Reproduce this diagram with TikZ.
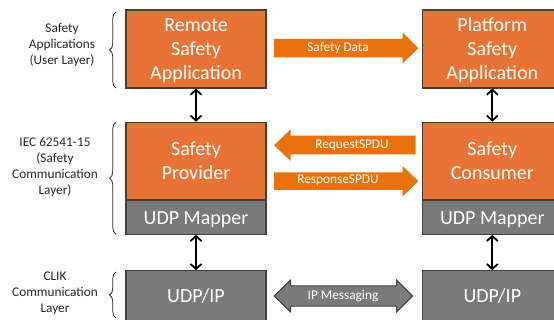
\documentclass[tikz,border=0pt]{standalone}
\usepackage{fontspec}
\setmainfont{Carlito}
\usetikzlibrary{arrows.meta,decorations.pathreplacing}

\definecolor{boxorange}{HTML}{E97334}
\definecolor{arroworange}{HTML}{E9720F}
\definecolor{boxgrey}{HTML}{7A7A7A}
\definecolor{edgegrey}{HTML}{3F3F3F}
\definecolor{labelgrey}{HTML}{262626}

\tikzset{
  layerbox/.style={draw=edgegrey, line width=1.1pt, minimum width=140pt, inner sep=0pt,
    text=white, align=center, font=\fontsize{20}{24}\selectfont},
  safetybox/.style={layerbox, fill=boxorange},
  commbox/.style={layerbox, fill=boxgrey},
  threeline/.style={text height=61.4pt, text depth=0pt},
  twoline/.style={text height=37.4pt, text depth=0pt},
  oneline/.style={text height=15.5pt, text depth=0pt},
  linkarrow/.style={line width=1.8pt, black, {Straight Barb[length=5pt,width=11pt]}-{Straight Barb[length=5pt,width=11pt]}},
  sidelabel/.style={align=center, text=labelgrey, font=\fontsize{13.3}{16}\selectfont, inner sep=0pt},
  flowlabel/.style={text=white, font=\fontsize{13.3}{16}\selectfont, inner sep=0pt},
  layerbrace/.style={draw=labelgrey, line width=0.8pt, decorate, decoration={brace, amplitude=6.5pt}},
  orangeflow/.style={fill=arroworange, draw=none},
  greyflow/.style={fill=boxgrey, draw=edgegrey, line width=1pt},
}

\begin{document}
\begin{tikzpicture}[x=1pt,y=-1pt]
  \useasboundingbox (0,0) rectangle (554,320);
  \clip (0,0) rectangle (554,320);

  % application layer
  \node[safetybox, threeline, minimum height=78pt] (rsa) at (196,49) {Remote\\Safety\\Application};
  \node[safetybox, threeline, minimum height=78pt] (psa) at (492.3,49) {Platform\\Safety\\Application};

  % safety communication layer
  \node[safetybox, twoline, minimum height=77.7pt] (sp) at (196,161.15) {Safety\\Provider};
  \node[safetybox, twoline, minimum height=77.7pt] (sc) at (492.3,161.15) {Safety\\Consumer};
  \node[commbox, oneline, minimum height=34.3pt] (um1) at (196,217.15) {UDP Mapper};
  \node[commbox, oneline, minimum height=34.3pt] (um2) at (492.3,217.15) {UDP Mapper};

  % transport layer
  \node[commbox, minimum height=50.6pt] (ip1) at (196,296) {UDP/IP};
  \node[commbox, minimum height=50.6pt] (ip2) at (492.3,296) {UDP/IP};

  % vertical links between layers
  \draw[linkarrow] (rsa.south) -- (sp.north);
  \draw[linkarrow] (psa.south) -- (sc.north);
  \draw[linkarrow] (um1.south) -- (ip1.north);
  \draw[linkarrow] (um2.south) -- (ip2.north);

  % block arrows between the two stacks
  \fill[orangeflow] (274,39) -- (402.7,39) -- (402.7,32.7) -- (418.3,48.2)
    -- (402.7,63.3) -- (402.7,57.3) -- (274,57.3) -- cycle;
  \node[flowlabel] (sdata) at (338,48.5) {Safety Data};

  \fill[orangeflow] (415.7,135.7) -- (290.7,135.7) -- (290.7,129.3) -- (274,145.2)
    -- (290.7,161) -- (290.7,154.3) -- (415.7,154.3) -- cycle;
  \node[flowlabel] (req) at (352,145) {RequestSPDU};

  \fill[orangeflow] (274,172.3) -- (402.7,172.3) -- (402.7,166) -- (418.3,181.2)
    -- (402.7,196.4) -- (402.7,190) -- (274,190) -- cycle;
  \node[flowlabel] (resp) at (338,180.5) {ResponseSPDU};

  \draw[greyflow] (274,296) -- (290.7,280) -- (290.7,286) -- (396.7,286) -- (396.7,280)
    -- (412.7,296) -- (396.7,312) -- (396.7,306) -- (290.7,306) -- (290.7,312) -- cycle;
  \node[flowlabel] (ipm) at (343,296) {IP Messaging};

  % layer braces and captions
  \draw[layerbrace] (116,88) -- (116,12);
  \draw[layerbrace] (116,234) -- (116,122.3);
  \draw[layerbrace] (116,318) -- (116,272);

  \node[sidelabel] (l1) at (62,45) {Safety\\Applications\\(User Layer)};
  \node[sidelabel] (l2) at (55,167.5) {IEC 62541-15\\(Safety\\Communication\\Layer)};
  \node[sidelabel] (l3) at (55,293) {CLIK\\Communication\\Layer};
\end{tikzpicture}
\end{document}
